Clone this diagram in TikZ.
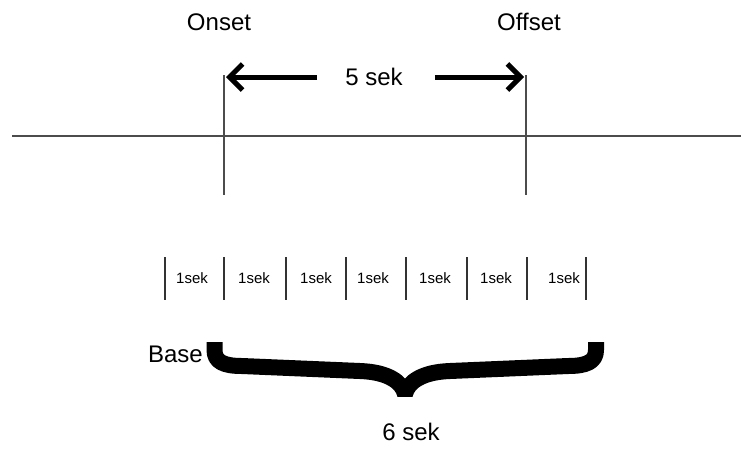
\documentclass[tikz,border=0pt]{standalone}
\usepackage{fontspec}
\setmainfont{Liberation Sans}
\usetikzlibrary{arrows.meta}
\begin{document}
\begin{tikzpicture}[x=1pt,y=-1pt,
  lbl/.style={font=\fontsize{24}{24}\selectfont, inner sep=0pt},
  cell/.style={font=\fontsize{15}{15}\selectfont, inner sep=0pt},
  axis/.style={draw=black!70, line width=1.5pt},
  guide/.style={draw=black!70, line width=1.6pt},
  tickline/.style={draw=black!80, line width=2.8pt},
  span/.style={draw=black, line width=5pt, -{Straight Barb[length=13pt,width=26pt]}},
  bracestroke/.style={draw=black, line width=16pt, line join=bevel}]
\useasboundingbox (0,0) rectangle (741,448);

% time axis
\coordinate (axL) at (12,136);
\coordinate (axR) at (741,136);
\draw[axis] (axL) -- (axR);

% onset / offset markers
\coordinate (onTop) at (224,75);
\coordinate (onBot) at (224,195);
\coordinate (offTop) at (526,75);
\coordinate (offBot) at (526,195);
\draw[guide] (onTop) -- (onBot);
\draw[guide] (offTop) -- (offBot);

\node[lbl] (onset) at (219,22) {Onset};
\node[lbl] (offset) at (529,22) {Offset};

% 5 s span
\node[lbl] (five) at (374,77) {5 sek};
\coordinate (onArr) at (226,77);
\coordinate (offArr) at (524,77);
\draw[span] ([xshift=-28pt]five.west) -- (onArr);
\draw[span] ([xshift=32pt]five.east) -- (offArr);

% one-second cells
\foreach \x [count=\i] in {165,224,286,346,406,467,527,586}{
  \coordinate (tt\i) at (\x,257);
  \coordinate (tb\i) at (\x,300);
  \draw[tickline] (tt\i) -- (tb\i);
}
\foreach \x [count=\i] in {192,254,316,373,435,496,564}{
  \node[cell] (c\i) at (\x,278) {1sek};
}

% baseline brace
\coordinate (bL) at (214.5,342);
\coordinate (bR) at (596,342);
\coordinate (bTip) at (405,394);
\draw[bracestroke] (bL) -- (214.5,350) .. controls (214.5,362) and (224,366) .. (242,366)
  -- (360,371) .. controls (388,372) and (402,382) .. (bTip)
  .. controls (408,382) and (422,372) .. (450,371)
  -- (568,366) .. controls (586,366) and (596,362) .. (596,350) -- (bR);

\node[lbl, anchor=east] (base) at (203,354) {Base};
\node[lbl] (six) at (411,432) {6 sek};
\end{tikzpicture}
\end{document}
